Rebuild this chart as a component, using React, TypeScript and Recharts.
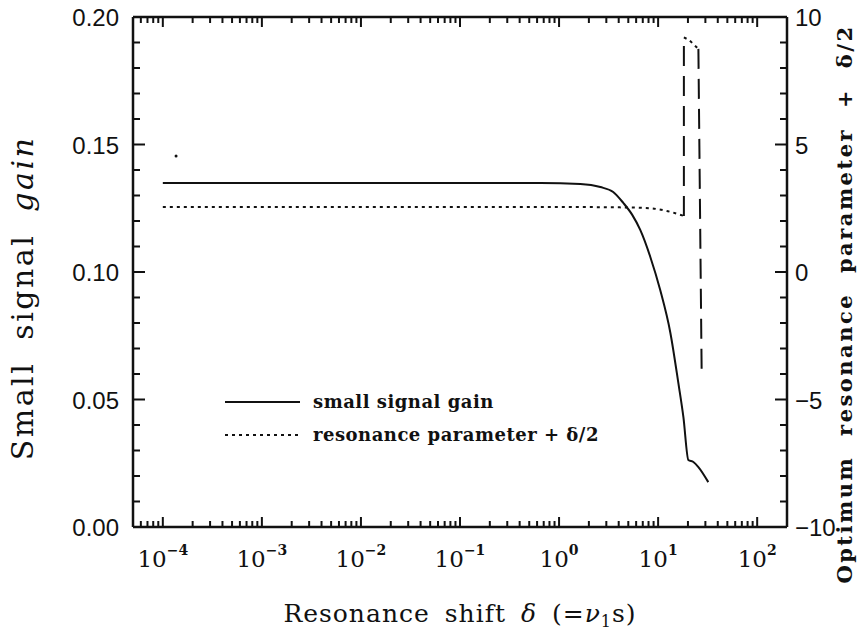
import React from 'react';
import { ComposedChart, Line, XAxis, YAxis, Scatter } from 'recharts';

// Small signal gain vs. resonance shift
const gainShift = [1e-4, 1e-2, 0.65, 1.64, 2.61, 3.52, 4.45, 5.48, 6.6, 8.34, 10.5, 13.3, 16.0, 18.0, 20.2, 22.7, 25.5, 32.1];
const gainValue = [0.1349, 0.1349, 0.1349, 0.1345, 0.1333, 0.1314, 0.1271, 0.1224, 0.1165, 0.1059, 0.0929, 0.0761, 0.0565, 0.0431, 0.0263, 0.0255, 0.0235, 0.0176];

// Optimum resonance parameter + delta/2 (lower branch, dotted)
const resShift = [1e-4, 1e-2, 1.0, 5.0, 8.3, 12.0, 18.2];
const resValue = [2.55, 2.55, 2.55, 2.53, 2.5, 2.4, 2.2];

// Upper branch (dotted)
const resUpperShift = [18.2, 20.5, 25.5];
const resUpperValue = [9.2, 9.1, 8.75];

// Jumps between branches (dashed)
const jumpOneShift = [18.2, 18.2];
const jumpOneValue = [2.2, 9.2];
const jumpTwoShift = [25.5, 27.5];
const jumpTwoValue = [8.75, -3.85];

// Isolated point
const speckShift = [1.36e-4];
const speckValue = [0.1455];

const xDomain = [5e-5, 200];
const decades = [-5, -4, -3, -2, -1, 0, 1, 2];
const xTickLabels = ['−5', '−4', '−3', '−2', '−1', '0', '1', '2'];
const gainTicks = [0, 0.01, 0.02, 0.03, 0.04, 0.05, 0.06, 0.07, 0.08, 0.09, 0.1, 0.11, 0.12, 0.13, 0.14, 0.15, 0.16, 0.17, 0.18, 0.19, 0.2];
const gainLabels = ['0.00', '0.05', '0.10', '0.15', '0.20'];
const resTicks = [-10, -9, -8, -7, -6, -5, -4, -3, -2, -1, 0, 1, 2, 3, 4, 5, 6, 7, 8, 9, 10];
const legendLabels = ['small signal gain', 'resonance parameter + δ/2'];

const zip = (xs: number[], ys: number[]) => xs.map((x, i) => ({ x, y: ys[i] }));

const gainData = zip(gainShift, gainValue);
const resData = zip(resShift, resValue);
const resUpperData = zip(resUpperShift, resUpperValue);
const jumpOneData = zip(jumpOneShift, jumpOneValue);
const jumpTwoData = zip(jumpTwoShift, jumpTwoValue);
const speckData = zip(speckShift, speckValue);

// log axis ticks: 1..9 x 10^n inside the domain
const logTicks: number[] = [];
decades.forEach((d) => {
  for (let k = 1; k <= 9; k++) {
    const v = k * Math.pow(10, d);
    if (v >= xDomain[0] * 0.999 && v <= xDomain[1] * 1.001) logTicks.push(Number(v.toPrecision(3)));
  }
});

const isDecade = (v: number) => Math.abs(Math.log10(v) - Math.round(Math.log10(v))) < 1e-6;

const INK = '#111';
const tickFont = '"Liberation Sans", Arial, sans-serif';
const serif = '"DejaVu Serif", serif';

const BottomTick = (props: any) => {
  const { x, y, payload } = props;
  const v = payload.value;
  const major = isDecade(v);
  const len = major ? 10 : 6;
  const d = Math.round(Math.log10(v));
  const idx = decades.indexOf(d);
  return (
    <g>
      <line x1={x} y1={y} x2={x} y2={y - len} stroke={INK} strokeWidth={2} />
      {major && idx >= 0 && v >= xDomain[0] && (
        <text x={x} y={y + 40} textAnchor="middle" fill={INK} fontFamily={serif} fontSize={23}>
          <tspan>10</tspan>
          <tspan dy={-12} fontSize={14} fontWeight="bold">{xTickLabels[idx]}</tspan>
        </text>
      )}
    </g>
  );
};

const TopTick = (props: any) => {
  const { x, y, payload } = props;
  const major = isDecade(payload.value);
  const len = major ? 10 : 6;
  return <line x1={x} y1={y} x2={x} y2={y + len} stroke={INK} strokeWidth={2} />;
};

const LeftTick = (props: any) => {
  const { x, y, payload } = props;
  const v = payload.value;
  const label = v.toFixed(2);
  const major = gainLabels.includes(label);
  return (
    <g>
      <line x1={x} y1={y} x2={x + (major ? 12 : 7)} y2={y} stroke={INK} strokeWidth={2} />
      {major && (
        <text x={x - 14} y={y + 9} textAnchor="end" fill={INK} fontFamily={tickFont} fontSize={24}>
          {label}
        </text>
      )}
    </g>
  );
};

const RightTick = (props: any) => {
  const { x, y, payload } = props;
  const v = payload.value;
  const major = v % 5 === 0;
  return (
    <g>
      <line x1={x} y1={y} x2={x - (major ? 12 : 7)} y2={y} stroke={INK} strokeWidth={2} />
      {major && (
        <text x={x + 8} y={y + 9} textAnchor="start" fill={INK} fontFamily={tickFont} fontSize={24}>
          {v < 0 ? `−${Math.abs(v)}` : `${v}`}
        </text>
      )}
    </g>
  );
};

export default function App() {
  return (
    <div style={{ position: 'absolute', left: 0, top: 0, width: 862, height: 633, background: '#fff' }}>
      <ComposedChart width={862} height={633} margin={{ top: 0, right: 0, bottom: 0, left: 0 }}>
        <XAxis
          xAxisId="bottom"
          type="number"
          dataKey="x"
          scale="log"
          domain={xDomain}
          allowDataOverflow
          ticks={logTicks}
          interval={0}
          height={106}
          tickSize={0}
          tickMargin={0}
          tickLine={false}
          axisLine={{ stroke: INK, strokeWidth: 2.5 }}
          tick={<BottomTick />}
        />
        <XAxis
          xAxisId="top"
          orientation="top"
          type="number"
          dataKey="x"
          scale="log"
          domain={xDomain}
          allowDataOverflow
          ticks={logTicks}
          interval={0}
          height={17}
          tickSize={0}
          tickMargin={0}
          tickLine={false}
          axisLine={{ stroke: INK, strokeWidth: 2.5 }}
          tick={<TopTick />}
        />
        <YAxis
          yAxisId="left"
          type="number"
          domain={[0, 0.2]}
          allowDataOverflow
          ticks={gainTicks}
          interval={0}
          width={133}
          tickSize={0}
          tickMargin={0}
          tickLine={false}
          axisLine={{ stroke: INK, strokeWidth: 2.5 }}
          tick={<LeftTick />}
        />
        <YAxis
          yAxisId="right"
          orientation="right"
          type="number"
          domain={[-10, 10]}
          allowDataOverflow
          ticks={resTicks}
          interval={0}
          width={75}
          tickSize={0}
          tickMargin={0}
          tickLine={false}
          axisLine={{ stroke: INK, strokeWidth: 2.5 }}
          tick={<RightTick />}
        />
        <Line
          data={gainData}
          dataKey="y"
          xAxisId="bottom"
          yAxisId="left"
          type="monotone"
          stroke={INK}
          strokeWidth={2}
          dot={false}
          isAnimationActive={false}
        />
        <Line
          data={resData}
          dataKey="y"
          xAxisId="bottom"
          yAxisId="right"
          type="monotone"
          stroke={INK}
          strokeWidth={2}
          strokeDasharray="3 4"
          dot={false}
          isAnimationActive={false}
        />
        <Line
          data={resUpperData}
          dataKey="y"
          xAxisId="bottom"
          yAxisId="right"
          type="linear"
          stroke={INK}
          strokeWidth={2}
          strokeDasharray="3 4"
          dot={false}
          isAnimationActive={false}
        />
        <Line
          data={jumpOneData}
          dataKey="y"
          xAxisId="bottom"
          yAxisId="right"
          type="linear"
          stroke={INK}
          strokeWidth={2}
          strokeDasharray="20 10"
          dot={false}
          isAnimationActive={false}
        />
        <Line
          data={jumpTwoData}
          dataKey="y"
          xAxisId="bottom"
          yAxisId="right"
          type="linear"
          stroke={INK}
          strokeWidth={2}
          strokeDasharray="20 10"
          dot={false}
          isAnimationActive={false}
        />
        <Scatter
          data={speckData}
          dataKey="y"
          xAxisId="bottom"
          yAxisId="left"
          fill={INK}
          shape={(p: any) => <circle cx={p.cx} cy={p.cy} r={1.5} fill={INK} />}
          isAnimationActive={false}
        />
      </ComposedChart>
      <svg
        width={862}
        height={633}
        style={{ position: 'absolute', left: 0, top: 0, pointerEvents: 'none' }}
      >
        {/* legend */}
        <g transform="translate(225, 393)">
          <line x1={0} y1={9} x2={75} y2={9} stroke={INK} strokeWidth={2} />
          <text x={88} y={15} fontFamily={serif} fontWeight="bold" fontSize={18} letterSpacing={0.5} fill={INK}>{legendLabels[0]}</text>
          <line x1={0} y1={42} x2={75} y2={42} stroke={INK} strokeWidth={2} strokeDasharray="3 4" />
          <text x={88} y={48} fontFamily={serif} fontWeight="bold" fontSize={18} letterSpacing={0.5} fill={INK}>{legendLabels[1]}</text>
        </g>
        <text
          transform="translate(33, 298) rotate(-90)"
          textAnchor="middle"
          fontFamily={serif}
          fontSize={30}
          letterSpacing={2.5}
          wordSpacing={10}
          fill={INK}
        >
          Small signal <tspan fontStyle="italic">gain</tspan>
        </text>
        <text
          transform="translate(852, 304) rotate(-90)"
          textAnchor="middle"
          fontFamily={serif}
          fontWeight="bold"
          fontSize={21}
          letterSpacing={2.5}
          wordSpacing={10}
          fill={INK}
        >
          Optimum resonance parameter + δ/2
        </text>
        <text
          x={460}
          y={622}
          textAnchor="middle"
          fontFamily={serif}
          fontSize={25}
          letterSpacing={1}
          wordSpacing={6}
          fill={INK}
        >
          Resonance shift <tspan fontStyle="italic">δ</tspan> (=<tspan fontStyle="italic">ν</tspan>
          <tspan dy={5} fontSize={16}>1</tspan>
          <tspan dy={-5}>s)</tspan>
        </text>
      </svg>
    </div>
  );
}
